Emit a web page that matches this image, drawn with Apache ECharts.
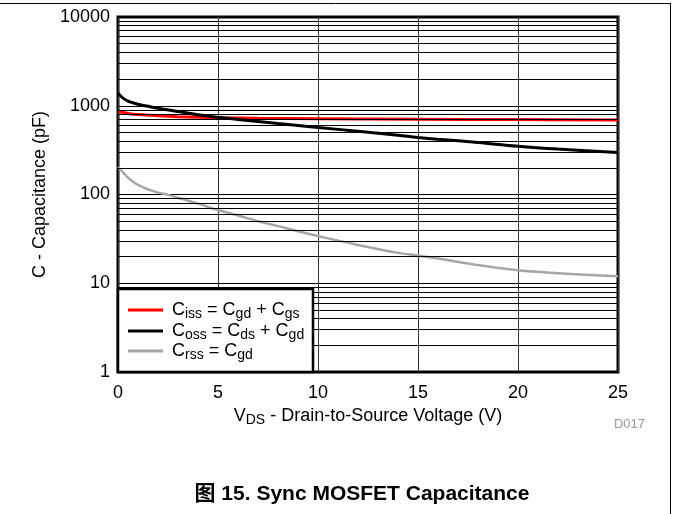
<!DOCTYPE html>
<html>
<head>
<meta charset="utf-8">
<script src="https://cdn.jsdelivr.net/npm/echarts@6/dist/echarts.min.js"></script>
<style>
  html, body { margin: 0; padding: 0; background: #fff; }
  #chart { width: 673px; height: 514px; }
</style>
</head>
<body>
<div id="chart"></div>
<script>
// Drain-to-source voltage samples (V)
const vdsCiss = [0, 0.5, 1, 2, 3, 4, 5, 7, 10, 15, 20, 25];
const ciss    = [860, 820, 795, 770, 752, 740, 732, 722, 713, 704, 698, 693];

const vdsCoss = [0, 0.25, 0.5, 0.75, 1, 1.5, 2, 3, 4, 5, 6, 7, 8, 9, 10, 12, 14, 15, 16, 18, 20, 22, 25];
const coss    = [1380, 1220, 1130, 1080, 1040, 985, 935, 860, 790, 740, 700, 665, 630, 600, 570, 515, 465, 440, 420, 385, 350, 325, 297];

const vdsCrss = [0, 0.25, 0.5, 0.75, 1, 1.5, 2, 2.5, 3, 4, 5, 6, 7, 8, 9, 10, 12, 14, 15, 16, 18, 20, 22, 25];
const crss    = [205, 178, 155, 139, 128, 114, 105, 99, 92, 79, 67, 58, 50, 44, 38.5, 34, 27, 22, 20.5, 19, 16, 14, 13, 12];

// Axis ticks
const xTicks = [0, 5, 10, 15, 20, 25];
const yDecades = [1, 10, 100, 1000, 10000];
const minorSteps = [2, 3, 4, 5, 6, 7, 8, 9];

// Minor grid values (2..9 within each decade)
const minorGrid = [];
yDecades.slice(0, -1).forEach(d => minorSteps.forEach(m => minorGrid.push(d * m)));

const pairs = (xs, ys) => xs.map((x, i) => [x, ys[i]]);

const FONT = 'Liberation Sans, Arial, sans-serif';
const chart = echarts.init(document.getElementById('chart'), null, { renderer: 'canvas' });

const legendRich = {
  m: { fontSize: 18, fontFamily: FONT, color: '#000', lineHeight: 22 },
  s: { fontSize: 14, fontFamily: FONT, color: '#000', lineHeight: 12, verticalAlign: 'bottom' }
};

chart.setOption({
  animation: false,
  backgroundColor: '#fff',
  grid: {
    left: 118, right: 55, top: 17, bottom: 142,
    show: true, borderColor: '#000', borderWidth: 3, backgroundColor: 'transparent'
  },
  xAxis: {
    type: 'value',
    min: xTicks[0], max: xTicks[xTicks.length - 1], interval: 5,
    axisLine: { show: false },
    axisTick: { show: false },
    axisLabel: { fontSize: 18, fontFamily: FONT, color: '#000', margin: 12 },
    splitLine: { show: true, lineStyle: { color: '#333', width: 1 } },
    name: '{m|V}{s|DS}{m| - Drain-to-Source Voltage (V)}',
    nameLocation: 'middle',
    nameGap: 28,
    nameTextStyle: { rich: legendRich }
  },
  yAxis: {
    type: 'log',
    logBase: 10,
    min: yDecades[0], max: yDecades[yDecades.length - 1],
    axisLine: { show: false },
    axisTick: { show: false },
    axisLabel: { fontSize: 18, fontFamily: FONT, color: '#000', margin: 8, formatter: v => String(v) },
    splitLine: { show: true, lineStyle: { color: '#000', width: 1 } },
    name: 'C - Capacitance (pF)',
    nameLocation: 'middle',
    nameGap: 66,
    nameTextStyle: { fontSize: 18, fontFamily: FONT, color: '#000' }
  },
  series: [
    {
      name: 'minor-grid',
      type: 'line',
      data: [],
      z: 1,
      silent: true,
      markLine: {
        silent: true,
        symbol: 'none',
        label: { show: false },
        lineStyle: { color: '#000', width: 1, type: 'solid' },
        emphasis: { disabled: true },
        data: minorGrid.map(v => ({ yAxis: v }))
      }
    },
    {
      name: 'Ciss', type: 'line', data: pairs(vdsCiss, ciss),
      smooth: 0.4, showSymbol: false, z: 3,
      lineStyle: { color: '#ff0000', width: 3 }
    },
    {
      name: 'Coss', type: 'line', data: pairs(vdsCoss, coss),
      smooth: 0.4, showSymbol: false, z: 4,
      lineStyle: { color: '#000', width: 3 }
    },
    {
      name: 'Crss', type: 'line', data: pairs(vdsCrss, crss),
      smooth: 0.4, showSymbol: false, z: 3,
      lineStyle: { color: '#a6a6a6', width: 2.5 }
    }
  ],
  graphic: [
    // outer page frame (top and right edges)
    { type: 'line', z: 20, shape: { x1: 0, y1: 3.5, x2: 671, y2: 3.5 }, style: { stroke: '#000', lineWidth: 1 } },
    { type: 'line', z: 20, shape: { x1: 670.5, y1: 3, x2: 670.5, y2: 514 }, style: { stroke: '#000', lineWidth: 1 } },
    // legend box
    { type: 'rect', z: 20, shape: { x: 118, y: 289, width: 195, height: 83 }, style: { fill: '#fff', stroke: '#000', lineWidth: 2.5 } },
    { type: 'line', z: 21, shape: { x1: 128, y1: 310, x2: 163, y2: 310 }, style: { stroke: '#ff0000', lineWidth: 3 } },
    { type: 'line', z: 21, shape: { x1: 128, y1: 331, x2: 163, y2: 331 }, style: { stroke: '#000', lineWidth: 3 } },
    { type: 'line', z: 21, shape: { x1: 128, y1: 351, x2: 163, y2: 351 }, style: { stroke: '#a6a6a6', lineWidth: 3 } },
    { type: 'text', z: 21, x: 172, y: 310, style: { text: '{m|C}{s|iss}{m| = C}{s|gd}{m| + C}{s|gs}', rich: legendRich, verticalAlign: 'middle' } },
    { type: 'text', z: 21, x: 172, y: 331, style: { text: '{m|C}{s|oss}{m| = C}{s|ds}{m| + C}{s|gd}', rich: legendRich, verticalAlign: 'middle' } },
    { type: 'text', z: 21, x: 172, y: 351, style: { text: '{m|C}{s|rss}{m| = C}{s|gd}', rich: legendRich, verticalAlign: 'middle' } },
    // figure id
    { type: 'text', z: 21, x: 645, y: 424, style: { text: 'D017', fontSize: 13, fontFamily: FONT, fill: '#999', align: 'right', verticalAlign: 'middle' } },
    // caption
    { type: 'text', z: 21, x: 362, y: 494, style: { text: '图 15. Sync MOSFET Capacitance', fontSize: 21, fontWeight: 'bold', fontFamily: 'Liberation Sans, Arial, Noto Sans CJK SC, sans-serif', fill: '#000', align: 'center', verticalAlign: 'middle' } }
  ]
});
</script>
</body>
</html>
